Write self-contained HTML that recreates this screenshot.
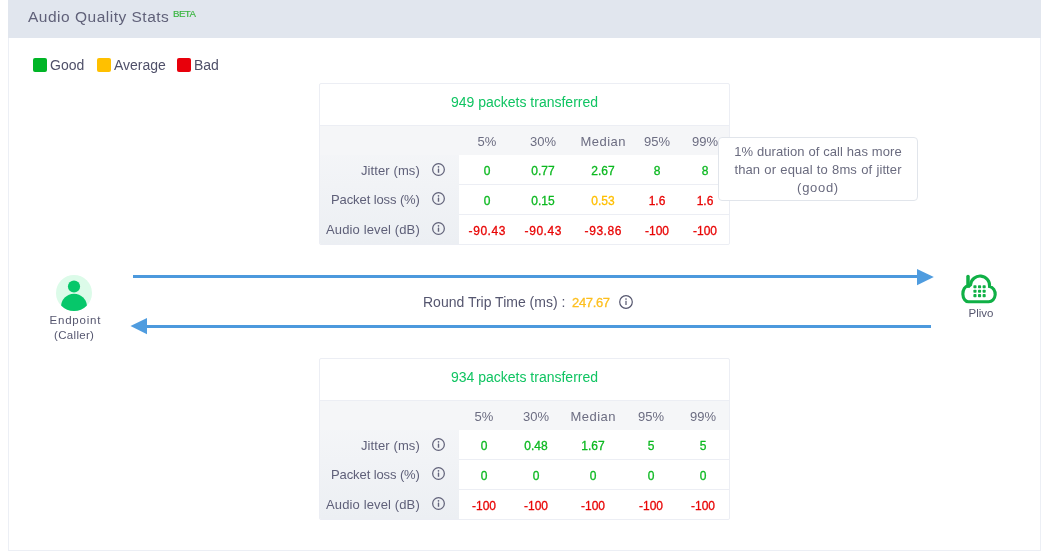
<!DOCTYPE html>
<html><head><meta charset="utf-8">
<style>
*{margin:0;padding:0;box-sizing:border-box}
html,body{width:1046px;height:553px;background:#fff;overflow:hidden}
body{position:relative;font-family:"Liberation Sans",sans-serif;color:#5c5d75}
.a{position:absolute;white-space:nowrap;line-height:1}
.a,.lab,.ch,.v,.ttl{will-change:transform}
.card{position:absolute;left:8px;top:0;width:1033px;height:551px;border:1px solid #eceff5;border-top:none}
.hdr{position:absolute;left:8px;top:0;width:1033px;height:38px;background:#e1e6ee}
.sq{position:absolute;width:14px;height:14px;border-radius:2px;top:58px}
.leg{font-size:14px;color:#4f5069;top:58.1px}
.tbl{position:absolute;left:319px;width:411px;height:162px;border:1px solid #eceef4;border-radius:2px;background:#fff;overflow:hidden}
.tbl .band{position:absolute;left:0;top:41px;width:409px;height:119px;background:linear-gradient(#f6f7f9,#eceff3);border-top:1px solid #eceef4}
.tbl .hrow{position:absolute;left:0;top:42px;width:409px;height:29px;background:#f5f6f8}
.tbl .data{position:absolute;left:139px;top:71px;width:270px;height:89px;background:#fff}
.tbl .rl{position:absolute;left:139px;width:270px;height:1px;background:#eceef4}
.ttl{position:absolute;left:0;top:0;width:409px;text-align:center;font-size:14px;color:#10c462;line-height:1}
.lab{position:absolute;right:310px;font-size:13px;color:#5f6079;line-height:1;text-align:right}
.ch{position:absolute;font-size:13px;color:#6c6d82;line-height:1;text-align:center}
.v{position:absolute;font-size:12px;line-height:1;text-align:center;-webkit-text-stroke:0.3px currentColor}
.g{color:#0cb820}.y{color:#ffbf00}.r{color:#e80505}
.ic{position:absolute;width:13px;height:13px}
</style></head><body>
<div class="card"></div>
<div class="hdr"></div>
<div class="a" style="left:28.3px;top:9.3px;font-size:15.5px;letter-spacing:0.5px;color:#606179">Audio Quality Stats</div>
<div class="a" style="left:173px;top:9.0px;font-size:9.7px;letter-spacing:-0.55px;-webkit-text-stroke:0.15px #36b43c;color:#36b43c">BETA</div>

<div class="sq" style="left:33px;background:#00b526"></div>
<div class="a leg" style="left:50px">Good</div>
<div class="sq" style="left:97px;background:#ffc000"></div>
<div class="a leg" style="left:114px">Average</div>
<div class="sq" style="left:177px;background:#e8000b"></div>
<div class="a leg" style="left:193.5px">Bad</div>

<div class="tbl" style="top:83px">
<div class="band"></div><div class="hrow"></div><div class="data"></div>
<div class="rl" style="top:100px"></div>
<div class="rl" style="top:130px"></div>
<div class="ttl" style="top:11.15px">949 packets transferred</div>
</div>
<div class="ch" style="left:446.8px;width:80px;top:134.80px">5%</div>
<div class="ch" style="left:503.3px;width:80px;top:134.80px">30%</div>
<div class="ch" style="left:562.6px;width:80px;top:134.80px;letter-spacing:0.5px;text-indent:0.5px">Median</div>
<div class="ch" style="left:616.8px;width:80px;top:134.80px">95%</div>
<div class="ch" style="left:664.9px;width:80px;top:134.80px">99%</div>
<div class="lab" style="right:625.90px;letter-spacing:0.1px;top:163.90px">Jitter (ms)</div>
<svg class="ic" style="left:431.9px;top:162.7px" width="13" height="13" viewBox="0 0 13 13"><circle cx="6.5" cy="6.5" r="5.85" fill="none" stroke="#62637a" stroke-width="1.25"/><rect x="5.8" y="5.6" width="1.4" height="4.1" rx="0.3" fill="#62637a"/><circle cx="6.5" cy="3.85" r="0.85" fill="#62637a"/></svg>
<div class="v g" style="left:446.8px;width:80px;top:164.84px">0</div>
<div class="v g" style="left:503.3px;width:80px;top:164.84px">0.77</div>
<div class="v g" style="left:562.6px;width:80px;top:164.84px">2.67</div>
<div class="v g" style="left:616.8px;width:80px;top:164.84px">8</div>
<div class="v g" style="left:664.9px;width:80px;top:164.84px">8</div>
<div class="lab" style="right:626.10px;letter-spacing:-0.1px;top:192.80px">Packet loss (%)</div>
<svg class="ic" style="left:431.9px;top:191.7px" width="13" height="13" viewBox="0 0 13 13"><circle cx="6.5" cy="6.5" r="5.85" fill="none" stroke="#62637a" stroke-width="1.25"/><rect x="5.8" y="5.6" width="1.4" height="4.1" rx="0.3" fill="#62637a"/><circle cx="6.5" cy="3.85" r="0.85" fill="#62637a"/></svg>
<div class="v g" style="left:446.8px;width:80px;top:194.84px">0</div>
<div class="v g" style="left:503.3px;width:80px;top:194.84px">0.15</div>
<div class="v y" style="left:562.6px;width:80px;top:194.84px">0.53</div>
<div class="v r" style="left:616.8px;width:80px;top:194.84px">1.6</div>
<div class="v r" style="left:664.9px;width:80px;top:194.84px">1.6</div>
<div class="lab" style="right:625.87px;letter-spacing:0.13px;top:222.60px">Audio level (dB)</div>
<svg class="ic" style="left:431.9px;top:221.5px" width="13" height="13" viewBox="0 0 13 13"><circle cx="6.5" cy="6.5" r="5.85" fill="none" stroke="#62637a" stroke-width="1.25"/><rect x="5.8" y="5.6" width="1.4" height="4.1" rx="0.3" fill="#62637a"/><circle cx="6.5" cy="3.85" r="0.85" fill="#62637a"/></svg>
<div class="v r" style="left:446.8px;width:80px;top:224.84px;letter-spacing:0.55px;text-indent:0.55px">-90.43</div>
<div class="v r" style="left:503.3px;width:80px;top:224.84px;letter-spacing:0.55px;text-indent:0.55px">-90.43</div>
<div class="v r" style="left:562.6px;width:80px;top:224.84px;letter-spacing:0.55px;text-indent:0.55px">-93.86</div>
<div class="v r" style="left:616.8px;width:80px;top:224.84px">-100</div>
<div class="v r" style="left:664.9px;width:80px;top:224.84px">-100</div>
<div class="tbl" style="top:358px">
<div class="band"></div><div class="hrow"></div><div class="data"></div>
<div class="rl" style="top:100px"></div>
<div class="rl" style="top:130px"></div>
<div class="ttl" style="top:11.15px">934 packets transferred</div>
</div>
<div class="ch" style="left:444.3px;width:80px;top:409.80px">5%</div>
<div class="ch" style="left:495.6px;width:80px;top:409.80px">30%</div>
<div class="ch" style="left:553.4px;width:80px;top:409.80px;letter-spacing:0.5px;text-indent:0.5px">Median</div>
<div class="ch" style="left:610.6px;width:80px;top:409.80px">95%</div>
<div class="ch" style="left:662.6px;width:80px;top:409.80px">99%</div>
<div class="lab" style="right:625.90px;letter-spacing:0.1px;top:438.90px">Jitter (ms)</div>
<svg class="ic" style="left:431.9px;top:437.7px" width="13" height="13" viewBox="0 0 13 13"><circle cx="6.5" cy="6.5" r="5.85" fill="none" stroke="#62637a" stroke-width="1.25"/><rect x="5.8" y="5.6" width="1.4" height="4.1" rx="0.3" fill="#62637a"/><circle cx="6.5" cy="3.85" r="0.85" fill="#62637a"/></svg>
<div class="v g" style="left:444.3px;width:80px;top:439.84px">0</div>
<div class="v g" style="left:495.6px;width:80px;top:439.84px">0.48</div>
<div class="v g" style="left:553.4px;width:80px;top:439.84px">1.67</div>
<div class="v g" style="left:610.6px;width:80px;top:439.84px">5</div>
<div class="v g" style="left:662.6px;width:80px;top:439.84px">5</div>
<div class="lab" style="right:626.10px;letter-spacing:-0.1px;top:467.80px">Packet loss (%)</div>
<svg class="ic" style="left:431.9px;top:466.7px" width="13" height="13" viewBox="0 0 13 13"><circle cx="6.5" cy="6.5" r="5.85" fill="none" stroke="#62637a" stroke-width="1.25"/><rect x="5.8" y="5.6" width="1.4" height="4.1" rx="0.3" fill="#62637a"/><circle cx="6.5" cy="3.85" r="0.85" fill="#62637a"/></svg>
<div class="v g" style="left:444.3px;width:80px;top:469.84px">0</div>
<div class="v g" style="left:495.6px;width:80px;top:469.84px">0</div>
<div class="v g" style="left:553.4px;width:80px;top:469.84px">0</div>
<div class="v g" style="left:610.6px;width:80px;top:469.84px">0</div>
<div class="v g" style="left:662.6px;width:80px;top:469.84px">0</div>
<div class="lab" style="right:625.87px;letter-spacing:0.13px;top:497.60px">Audio level (dB)</div>
<svg class="ic" style="left:431.9px;top:496.5px" width="13" height="13" viewBox="0 0 13 13"><circle cx="6.5" cy="6.5" r="5.85" fill="none" stroke="#62637a" stroke-width="1.25"/><rect x="5.8" y="5.6" width="1.4" height="4.1" rx="0.3" fill="#62637a"/><circle cx="6.5" cy="3.85" r="0.85" fill="#62637a"/></svg>
<div class="v r" style="left:444.3px;width:80px;top:499.84px">-100</div>
<div class="v r" style="left:495.6px;width:80px;top:499.84px">-100</div>
<div class="v r" style="left:553.4px;width:80px;top:499.84px">-100</div>
<div class="v r" style="left:610.6px;width:80px;top:499.84px">-100</div>
<div class="v r" style="left:662.6px;width:80px;top:499.84px">-100</div>
<!-- tooltip -->
<div style="position:absolute;left:718px;top:137px;width:200px;height:64px;border:1px solid #e1e5eb;border-radius:4px;background:#fff"></div>
<div class="a" style="left:718px;top:142.6px;width:200px;text-align:center;font-size:13px;line-height:18px;color:#6a6b7f;white-space:normal"><span style="letter-spacing:0.1px">1% duration of call has more</span><br><span style="letter-spacing:0.1px;word-spacing:0.5px">than or equal to 8ms of jitter</span><br><span style="letter-spacing:0.7px">(good)</span></div>

<!-- arrows -->
<svg style="position:absolute;left:0;top:0" width="1046" height="553" viewBox="0 0 1046 553">
<rect x="133" y="275" width="785" height="3" fill="#4c99dd"/>
<polygon points="917,269 933.8,277 917,285.2" fill="#4f9cdf"/>
<rect x="146" y="325" width="785" height="3" fill="#4c99dd"/>
<polygon points="147,318 130.5,326 147,334.2" fill="#4f9cdf"/>
</svg>

<!-- endpoint -->
<svg style="position:absolute;left:56px;top:275px" width="36" height="36" viewBox="0 0 36 36">
<defs><clipPath id="cc"><circle cx="18" cy="18" r="18"/></clipPath></defs>
<circle cx="18" cy="18" r="18" fill="#dcfbe9"/>
<circle cx="18" cy="11.5" r="6.1" fill="#06c76a"/>
<ellipse cx="18" cy="32" rx="13" ry="13.3" fill="#06c76a" clip-path="url(#cc)"/>
</svg>
<div class="a" style="left:34.8px;width:80px;text-align:center;top:314.6px;font-size:11.5px;color:#55566f;letter-spacing:0.8px;text-indent:0.8px">Endpoint</div>
<div class="a" style="left:34px;width:80px;text-align:center;top:330px;font-size:11.5px;color:#55566f;letter-spacing:0.3px;text-indent:0.3px">(Caller)</div>

<!-- plivo -->
<svg style="position:absolute;left:958px;top:272px" width="42" height="34" viewBox="0 0 42 34">
<g fill="none" stroke="#10b046" stroke-width="3.1" transform="translate(0 0.6)">
<path d="M10,3.9 L10,13.6" stroke-width="3.5" stroke-linecap="round"/>
<path d="M10.2,13.2 A5.6 8 0 0 0 10.7 29.2 L30.5 29.2 A6.55 7.7 0 0 0 31.59 13.88 A9.25 9.25 0 0 0 12.6 12.1 L10.2 14.4"/>
</g>
<g fill="#10b046">
<rect x="15.4" y="13.2" width="3.1" height="3.1" rx="0.8"/><rect x="20" y="13.2" width="3.1" height="3.1" rx="0.8"/><rect x="24.6" y="13.2" width="3.1" height="3.1" rx="0.8"/>
<rect x="15.4" y="17.7" width="3.1" height="3.1" rx="0.8"/><rect x="20" y="17.7" width="3.1" height="3.1" rx="0.8"/><rect x="24.6" y="17.7" width="3.1" height="3.1" rx="0.8"/>
<rect x="15.4" y="22.1" width="3.1" height="3.1" rx="0.8"/><rect x="20" y="22.1" width="3.1" height="3.1" rx="0.8"/><rect x="24.6" y="22.1" width="3.1" height="3.1" rx="0.8"/>
</g>
</svg>
<div class="a" style="left:940.6px;width:80px;text-align:center;top:307.6px;font-size:11.5px;color:#55566e">Plivo</div>

<!-- RTT -->
<div class="a" style="left:422.6px;top:295.2px;font-size:14px;color:#55566f">Round Trip Time (ms) :</div>
<div class="a" style="left:572px;top:295.7px;font-size:13px;color:#fdbf1e;letter-spacing:-0.35px;-webkit-text-stroke:0.3px #fdbf1e">247.67</div>
<svg class="ic" style="left:619px;top:295px;width:14px;height:14px" width="14" height="14" viewBox="0 0 14 14"><circle cx="7" cy="7" r="6.3" fill="none" stroke="#55566e" stroke-width="1.2"/><rect x="6.4" y="5.8" width="1.2" height="4.2" fill="#55566e"/><circle cx="7" cy="4.1" r="0.8" fill="#55566e"/></svg>


</body></html>
